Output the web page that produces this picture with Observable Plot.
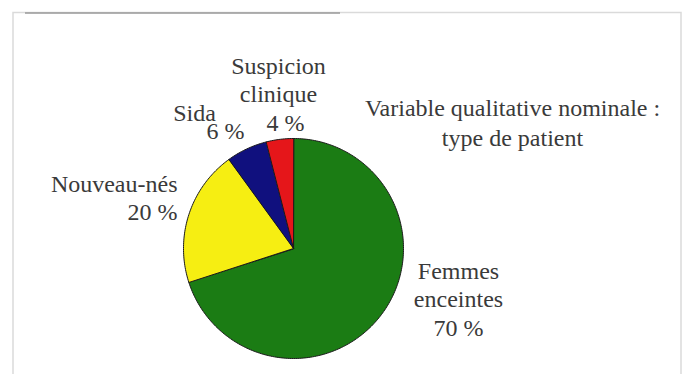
<!DOCTYPE html>
<html>
<head>
<meta charset="utf-8">
<script src="https://cdn.jsdelivr.net/npm/d3@7"></script>
<script src="https://cdn.jsdelivr.net/npm/@observablehq/plot@0.6"></script>
</head>
<body style="margin:0;background:#fff">
<div id="chart"></div>
<script>
// ---- data ----
const categories = ["Femmes enceintes", "Nouveau-nés", "Sida", "Suspicion clinique"];
const percents = [70, 20, 6, 4];
const colors = ["#1b7c14", "#f6ee12", "#10107e", "#e5161a"];
const labelLines = [
  ["Femmes", "enceintes", "70 %"],
  ["Nouveau-nés", "20 %"],
  ["Sida", "6 %"],
  ["Suspicion", "clinique", "4 %"]
];
const titleLines = ["Variable qualitative nominale :", "type de patient"];

// ---- layout (pixels) ----
const W = 686, H = 374;
const cx = 293, cy = 248, R = 110;
const lineGap = 28.5;
const labelLayout = [
  {x: 458, y: 278, anchor: "middle"},
  {x: 177, y: 191, anchor: "end"},
  {x: 194, y: 120, anchor: "middle", offsets: [0, 31], dy: [0, 18]},
  {x: 278, y: 73, anchor: "middle", offsets: [0, 0, 7]}
];
const titleLayout = {x: 512, y: 115};

// ---- pie geometry from data ----
const pie = d3.pie().sort(null).value(d => d.value)(
  categories.map((c, i) => ({category: c, value: percents[i]}))
);
const slicePts = [];
pie.forEach((s, i) => {
  const cat = categories[i];
  slicePts.push({category: cat, x: cx, y: cy});
  const n = Math.max(2, Math.ceil((s.endAngle - s.startAngle) / (Math.PI / 180)));
  for (let k = 0; k <= n; k++) {
    const a = s.startAngle + (s.endAngle - s.startAngle) * k / n;
    slicePts.push({category: cat, x: cx + R * Math.sin(a), y: cy - R * Math.cos(a)});
  }
});

// ---- text rows ----
const textRows = [];
labelLines.forEach((lines, i) => {
  const L = labelLayout[i];
  lines.forEach((t, j) => {
    textRows.push({
      text: t,
      x: L.x + (L.offsets ? L.offsets[j] : 0),
      y: L.y + (L.dy ? L.dy[j] : j * lineGap),
      anchor: L.anchor
    });
  });
});
titleLines.forEach((t, j) => {
  textRows.push({text: t, x: titleLayout.x, y: titleLayout.y + j * 30, anchor: "middle"});
});

const textMark = (anchor) => Plot.text(textRows.filter(d => d.anchor === anchor), {
  x: "x", y: "y", text: "text",
  textAnchor: anchor,
  lineAnchor: "bottom",
  fill: "#3a3a3a",
  fontSize: 24,
  fontFamily: "Liberation Serif"
});

const plot = Plot.plot({
  width: W,
  height: H,
  margin: 0,
  x: {domain: [0, W], range: [0, W], axis: null},
  y: {domain: [0, H], range: [0, H], axis: null},
  color: {domain: categories, range: colors},
  marks: [
    Plot.rect([{x1: 13, x2: 681, y1: 12.5, y2: H + 10}], {
      x1: "x1", x2: "x2", y1: "y1", y2: "y2",
      fill: "none", stroke: "#dadada", strokeWidth: 1.5
    }),
    Plot.ruleY([12.5], {x1: 25, x2: 340, stroke: "#9a9a9a", strokeWidth: 1.5}),
    Plot.line(slicePts, {
      x: "x", y: "y", z: "category",
      fill: "category",
      stroke: "#1a1a1a",
      strokeWidth: 1,
      curve: "linear-closed"
    }),
    textMark("middle"),
    textMark("end")
  ]
});
document.getElementById("chart").appendChild(plot);
</script>
</body>
</html>
